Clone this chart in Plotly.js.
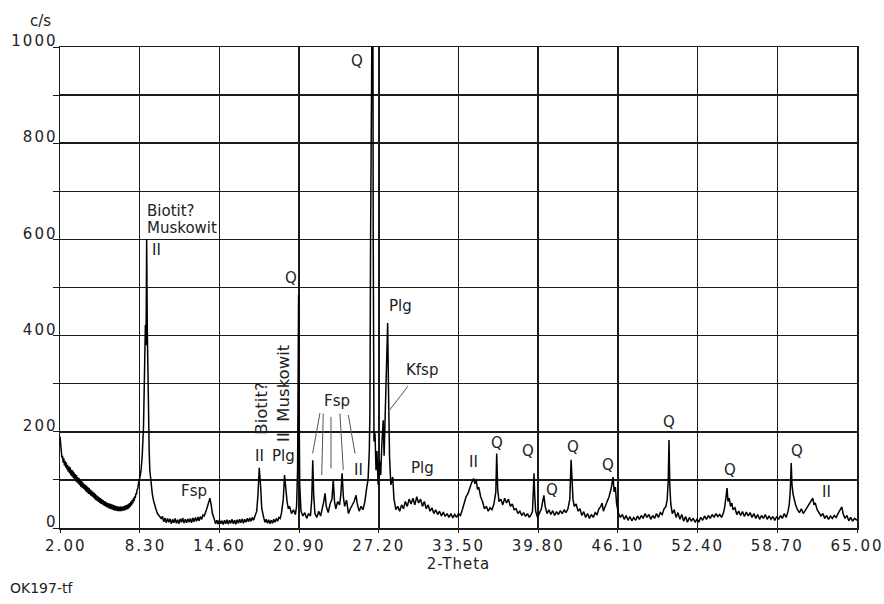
<!DOCTYPE html>
<html>
<head>
<meta charset="utf-8">
<script src="https://cdn.plot.ly/plotly-3.0.1.min.js"></script>
<style>
html,body{margin:0;padding:0;background:#fff;}
.xtick text,.ytick text{letter-spacing:2px;}
.xtitle{letter-spacing:1px;}
</style>
</head>
<body>
<div id="chart" style="width:884px;height:604px;"></div>
<script>
// ---- data: [2-Theta, counts per second] ----
const scan = [
[2.00,190],[2.05,168],[2.10,162],[2.15,146],[2.20,150],[2.25,136],[2.30,145],[2.35,130],[2.40,139],[2.45,126],
[2.50,136],[2.55,122],[2.60,131],[2.65,117],[2.70,128],[2.75,114],[2.80,126],[2.85,110],[2.90,121],[2.95,107],
[3.00,120],[3.05,104],[3.10,116],[3.15,101],[3.20,112],[3.25,97],[3.30,110],[3.35,95],[3.40,106],[3.45,92],
[3.50,104],[3.55,89],[3.60,101],[3.65,86],[3.70,98],[3.75,84],[3.80,95],[3.85,82],[3.90,92],[3.95,79],
[4.00,90],[4.05,76],[4.10,88],[4.15,74],[4.20,85],[4.25,71],[4.30,83],[4.35,70],[4.40,80],[4.45,67],
[4.50,78],[4.55,65],[4.60,75],[4.65,63],[4.70,73],[4.75,60],[4.80,71],[4.85,58],[4.90,68],[4.95,56],
[5.00,66],[5.05,54],[5.10,64],[5.15,52],[5.20,62],[5.25,50],[5.30,60],[5.35,49],[5.40,58],[5.45,47],
[5.50,56],[5.55,46],[5.60,55],[5.65,44],[5.70,53],[5.75,43],[5.80,52],[5.85,41],[5.90,51],[5.95,40],
[6.00,50],[6.05,39],[6.10,49],[6.15,38],[6.20,48],[6.25,37],[6.30,47],[6.35,36],[6.40,46],[6.45,36],
[6.50,45],[6.55,35],[6.60,45],[6.65,35],[6.70,44],[6.75,35],[6.80,45],[6.85,35],[6.90,44],[6.95,36],
[7.00,45],[7.05,36],[7.10,46],[7.15,37],[7.20,47],[7.25,38],[7.30,48],[7.35,39],[7.40,50],[7.45,41],
[7.50,52],[7.55,44],[7.60,55],[7.65,47],[7.70,58],[7.75,51],[7.80,62],[7.85,56],[7.90,66],[7.95,62],
[8.00,72],[8.05,70],[8.10,80],[8.15,82],[8.20,92],[8.25,96],[8.30,104],[8.40,118],[8.50,150],[8.60,210],[8.65,280],
[8.70,350],[8.75,422],[8.80,380],[8.85,600],[8.90,415],[8.95,300],[9.00,220],[9.05,160],[9.10,120],[9.20,88],
[9.30,70],[9.40,56],[9.50,45],[9.60,38],[9.70,30],[9.80,27],[9.90,22],[10.00,20],
[10.10,24],[10.20,13],[10.30,21],[10.40,11],[10.50,20],[10.60,12],[10.70,19],[10.80,9],[10.90,18],[11.00,11],
[11.10,20],[11.20,10],[11.30,17],[11.40,9],[11.50,19],[11.60,12],[11.70,21],[11.80,10],[11.90,18],[12.00,11],
[12.10,19],[12.20,12],[12.30,20],[12.40,11],[12.50,21],[12.60,13],[12.70,22],[12.80,14],[12.90,23],[13.00,15],
[13.10,24],[13.20,18],[13.30,27],[13.40,25],[13.60,40],[13.75,55],[13.85,62],
[13.95,48],[14.05,30],[14.20,18],[14.30,9],[14.40,16],[14.50,8],[14.60,17],[14.70,9],[14.80,15],[14.90,7],
[15.00,16],[15.10,9],[15.20,17],[15.30,8],[15.40,16],[15.50,10],[15.60,18],[15.70,9],[15.80,16],[15.90,8],
[16.00,17],[16.10,10],[16.20,18],[16.30,11],[16.40,19],[16.50,10],[16.60,18],[16.70,12],[16.80,20],[16.90,13],
[17.00,21],[17.10,14],[17.20,22],[17.30,16],[17.40,24],[17.55,35],
[17.65,70],[17.75,125],[17.85,90],[17.95,40],[18.10,22],[18.20,12],[18.30,18],[18.40,10],[18.50,17],[18.60,9],
[18.70,16],[18.80,10],[18.90,18],[19.00,12],[19.10,20],[19.20,14],[19.30,22],[19.40,20],
[19.50,30],[19.65,60],[19.75,110],[19.85,80],[19.95,55],[20.05,40],[20.15,45],[20.30,30],[20.45,38],
[20.60,28],[20.70,45],[20.78,120],[20.83,300],[20.86,484],[20.90,250],[20.95,90],[21.05,35],[21.20,25],[21.35,32],
[21.50,20],[21.65,30],[21.80,25],[21.90,60],[21.98,141],[22.05,70],[22.15,30],[22.30,22],[22.45,35],[22.60,25],
[22.75,40],[22.85,55],[22.95,72],[23.05,45],[23.20,32],[23.35,50],[23.50,60],[23.60,100],[23.70,55],[23.80,40],
[23.95,55],[24.10,48],[24.20,70],[24.30,114],[24.40,65],[24.50,45],[24.65,58],[24.80,30],[24.95,40],[25.10,48],
[25.25,55],[25.40,68],[25.50,50],[25.65,35],[25.80,45],[25.95,38],[26.10,55],[26.25,85],[26.35,100],[26.45,160],
[26.50,245],[26.55,600],[26.58,1300],[26.72,1300],[26.76,600],[26.82,180],[26.90,197],[26.98,120],[27.05,160],[27.15,90],
[27.25,140],[27.35,110],[27.45,180],[27.55,224],[27.62,150],[27.70,250],[27.80,360],[27.90,426],[27.97,280],[28.05,148],
[28.15,90],[28.30,106],[28.40,60],[28.55,38],[28.70,45],[28.85,35],[29.00,48],[29.15,40],[29.30,55],[29.45,45],
[29.60,60],[29.75,50],[29.90,62],[30.05,48],[30.20,65],[30.35,52],[30.50,60],[30.65,45],[30.80,55],[30.95,40],
[31.10,48],[31.25,35],[31.40,42],[31.55,30],[31.70,38],[31.85,28],[32.00,35],[32.15,25],[32.30,33],[32.45,24],
[32.60,30],[32.75,22],[32.90,30],[33.05,21],[33.20,28],[33.35,22],[33.50,30],[33.65,26],[33.80,38],[33.95,50],
[34.10,65],[34.25,72],[34.40,85],[34.55,95],[34.70,103],[34.80,92],[34.90,100],[35.00,80],[35.10,85],[35.25,65],
[35.40,55],[35.55,40],[35.70,45],[35.85,35],[36.00,42],[36.15,38],[36.30,50],[36.45,75],[36.52,155],[36.60,80],
[36.70,55],[36.85,60],[37.00,48],[37.15,62],[37.30,52],[37.45,60],[37.60,45],[37.75,50],[37.90,38],[38.05,40],
[38.20,30],[38.35,35],[38.50,26],[38.65,32],[38.80,24],[38.95,30],[39.10,22],[39.25,28],[39.35,35],[39.42,80],
[39.47,114],[39.52,70],[39.60,35],[39.75,22],[39.90,30],[40.05,40],[40.15,55],[40.25,68],[40.35,45],[40.50,30],
[40.65,38],[40.80,28],[40.95,36],[41.10,26],[41.25,34],[41.40,28],[41.55,36],[41.70,30],[41.85,38],[42.00,32],
[42.15,40],[42.30,60],[42.40,142],[42.48,90],[42.55,60],[42.65,45],[42.80,50],[42.95,35],[43.10,40],[43.25,26],
[43.40,34],[43.55,22],[43.70,30],[43.85,20],[44.00,28],[44.15,22],[44.30,32],[44.45,28],[44.60,40],[44.75,45],
[44.85,52],[44.95,35],[45.10,45],[45.25,55],[45.40,65],[45.55,80],[45.65,95],[45.72,106],[45.80,75],[45.90,85],
[46.00,50],[46.15,30],[46.30,22],[46.45,28],[46.60,18],[46.75,26],[46.90,16],[47.05,24],[47.20,15],[47.35,22],
[47.50,16],[47.65,25],[47.80,18],[47.95,26],[48.10,20],[48.25,30],[48.40,22],[48.55,28],[48.70,18],[48.85,26],
[49.00,20],[49.15,30],[49.30,22],[49.45,32],[49.60,28],[49.75,40],[49.90,45],[50.00,60],[50.08,100],[50.14,183],
[50.20,90],[50.28,50],[50.40,30],[50.55,38],[50.70,22],[50.85,32],[51.00,18],[51.15,28],[51.30,14],[51.45,24],
[51.60,12],[51.75,22],[51.90,14],[52.05,20],[52.20,12],[52.35,18],[52.50,13],[52.65,22],[52.80,16],[52.95,25],
[53.10,18],[53.25,26],[53.40,20],[53.55,28],[53.70,22],[53.85,30],[54.00,24],[54.15,28],[54.30,22],[54.45,32],
[54.55,45],[54.65,70],[54.73,83],[54.80,55],[54.90,62],[55.00,45],[55.10,52],[55.20,38],[55.35,42],[55.50,28],
[55.65,35],[55.80,26],[55.95,34],[56.10,24],[56.25,33],[56.40,25],[56.55,32],[56.70,22],[56.85,30],[57.00,20],
[57.15,28],[57.30,18],[57.45,26],[57.60,20],[57.75,28],[57.90,18],[58.05,25],[58.20,18],[58.35,24],[58.50,16],
[58.65,24],[58.80,18],[58.95,26],[59.10,20],[59.25,30],[59.40,22],[59.55,35],[59.65,50],[59.73,80],[59.80,135],
[59.86,90],[59.95,70],[60.05,55],[60.15,48],[60.30,38],[60.45,32],[60.60,40],[60.75,30],[60.90,36],[61.05,42],
[61.20,48],[61.35,55],[61.50,62],[61.60,48],[61.70,52],[61.85,38],[62.00,32],[62.15,25],[62.30,30],[62.45,20],
[62.60,26],[62.75,18],[62.90,25],[63.05,20],[63.20,26],[63.35,22],[63.50,30],[63.65,38],[63.80,44],[63.90,30],
[64.05,20],[64.20,26],[64.35,15],[64.50,22],[64.65,14],[64.80,20],[65.00,16]
];
const xTickValues = [2.00, 8.30, 14.60, 20.90, 27.20, 33.50, 39.80, 46.10, 52.40, 58.70, 65.00];
const xTickLabels = ['2.00','8.30','14.60','20.90','27.20','33.50','39.80','46.10','52.40','58.70','65.00'];
const yTickValues = [0,100,200,300,400,500,600,700,800,900,1000];
const yTickLabels = ['0','','200','','400','','600','','800','','1000'];
const phaseLabels = ['Q','Biotit?','Muskowit','II','Q','Fsp','II','Plg','Fsp','II','Plg','Kfsp','Plg','II','Q','Q','Q','Q','Q','Q','Q','Q','II'];

// ---- build ----
const twoTheta = scan.map(p => p[0]);
const counts = scan.map(p => p[1]);
const FONT = 'DejaVu Sans, Verdana, sans-serif';
const TXT = '#222';

// label anchor spots (layout, in axis units)
const labelSpots = [
  [25.48,971],[8.72,659],[8.72,624],[9.59,578],[20.26,520],[12.59,77],[17.73,150],[19.63,150],
  [23.90,264],[25.56,121],[28.88,461],[30.62,328],[30.69,125],[34.72,137],[36.54,177],[38.99,160],
  [40.89,79],[42.55,168],[45.32,131],[50.14,220],[54.96,121],[60.26,160],[62.55,75]
];
const annotations = phaseLabels.map((t, i) => ({
  x: labelSpots[i][0], y: labelSpots[i][1], xref: 'x', yref: 'y', text: t, showarrow: false,
  xanchor: (t === 'Biotit?' || t === 'Muskowit') ? 'left' : 'center', yanchor: 'middle',
  font: {family: FONT, size: 15, color: TXT}
}));
// rotated two-line note near 18-20 deg
annotations.push({x: 17.97, y: 190, xref: 'x', yref: 'y', text: 'Biotit?', textangle: -90, showarrow: false,
  xanchor: 'center', yanchor: 'bottom', font: {family: FONT, size: 16.5, color: TXT}});
annotations.push({x: 19.71, y: 175, xref: 'x', yref: 'y', text: 'II\u00a0\u00a0Muskowit', textangle: -90, showarrow: false,
  xanchor: 'center', yanchor: 'bottom', font: {family: FONT, size: 16.5, color: TXT}});
// outside-plot texts (paper = plot-area fraction)
annotations.push({x: (53 - 60) / 797, y: (528 - 21) / 481, xref: 'paper', yref: 'paper', text: 'c/s', showarrow: false,
  xanchor: 'right', yanchor: 'middle', font: {family: FONT, size: 15, color: TXT}});
annotations.push({x: (8 - 60) / 797, y: (528 - 588) / 481, xref: 'paper', yref: 'paper', text: 'OK197-tf', showarrow: false,
  xanchor: 'left', yanchor: 'middle', font: {family: FONT, size: 14, color: TXT}});

const leader = (x0, y0, x1, y1) => ({type: 'line', xref: 'x', yref: 'y', x0, y0, x1, y1,
  line: {color: '#555', width: 1}});
const shapes = [
  leader(22.55,239,21.97,155), leader(22.81,238,22.69,110), leader(23.42,231,23.42,124),
  leader(24.13,238,24.39,121), leader(24.79,235,25.32,155), leader(29.51,295,27.93,241)
];

const trace = {
  x: twoTheta, y: counts, type: 'scatter', mode: 'lines',
  line: {color: '#000', width: 1.5}, hoverinfo: 'skip'
};

const layout = {
  width: 884, height: 604,
  margin: {l: 60, r: 27, t: 47, b: 76},
  paper_bgcolor: '#fff', plot_bgcolor: '#fff',
  showlegend: false,
  font: {family: FONT, color: TXT},
  xaxis: {
    range: [2, 65], tickmode: 'array', tickvals: xTickValues,
    ticktext: xTickLabels.map(s => s.length === 4 ? '\u2007' + s : s),
    showgrid: true, gridcolor: '#1a1a1a', gridwidth: 1.5,
    showline: true, linecolor: '#1a1a1a', linewidth: 1.5, mirror: true,
    ticks: 'outside', ticklen: 3, tickcolor: '#1a1a1a', zeroline: false,
    tickfont: {family: FONT, size: 15, color: TXT},
    title: {text: '2-Theta', font: {family: FONT, size: 15, color: TXT}, standoff: 4}
  },
  yaxis: {
    range: [0, 1000], tickmode: 'array', tickvals: yTickValues, ticktext: yTickLabels,
    showgrid: true, gridcolor: '#1a1a1a', gridwidth: 1.5,
    showline: true, linecolor: '#1a1a1a', linewidth: 1.5, mirror: true,
    ticks: 'outside', ticklen: 6, tickcolor: '#1a1a1a', zeroline: false,
    ticklabelshift: -6, ticklabelstandoff: -8,
    tickfont: {family: FONT, size: 15, color: TXT}
  },
  annotations: annotations,
  shapes: shapes
};

Plotly.newPlot('chart', [trace], layout, {staticPlot: true, displayModeBar: false});
</script>
</body>
</html>
